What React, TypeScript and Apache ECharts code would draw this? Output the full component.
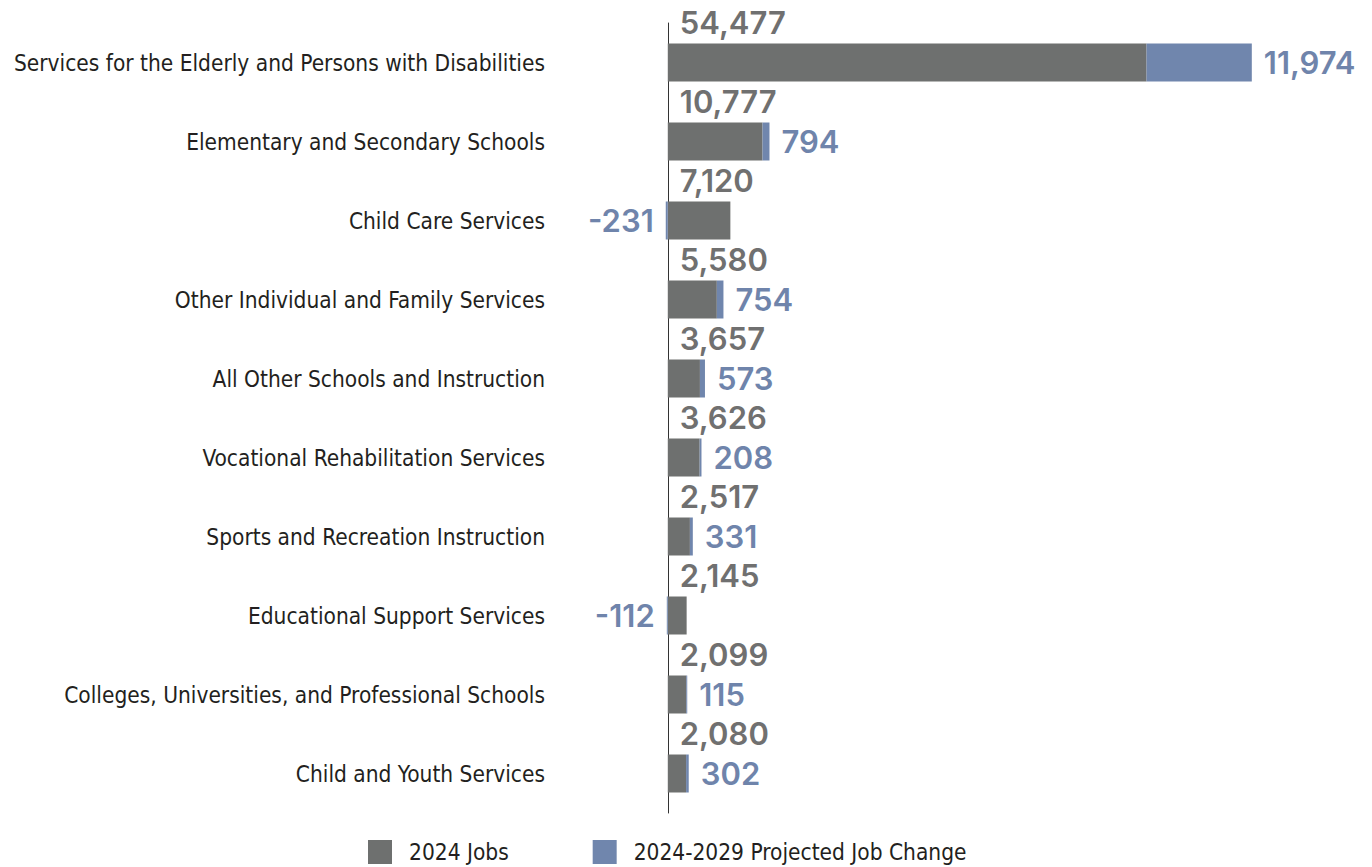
import React, { useEffect, useRef } from "react";
import * as echarts from "echarts";

const categories = [
  "Services for the Elderly and Persons with Disabilities",
  "Elementary and Secondary Schools",
  "Child Care Services",
  "Other Individual and Family Services",
  "All Other Schools and Instruction",
  "Vocational Rehabilitation Services",
  "Sports and Recreation Instruction",
  "Educational Support Services",
  "Colleges, Universities, and Professional Schools",
  "Child and Youth Services",
];
const jobs2024 = [54477, 10777, 7120, 5580, 3657, 3626, 2517, 2145, 2099, 2080];
const jobChange = [11974, 794, -231, 754, 573, 208, 331, -112, 115, 302];
const seriesNames = ["2024 Jobs", "2024-2029 Projected Job Change"];

const GRAY = "#6e706f";
const BLUE = "#7086ad";
const NUM_FONT = "Inter, 'DejaVu Sans', sans-serif";
const CAT_FONT = "'DejaVu Sans Condensed', 'Liberation Sans Narrow', sans-serif";

const fmt = (v: number) => v.toLocaleString("en-US");

export default function App() {
  const ref = useRef<HTMLDivElement>(null);
  useEffect(() => {
    if (!ref.current) return;
    const chart = echarts.init(ref.current, null, { renderer: "svg" });
    chart.setOption({
      animation: false,
      backgroundColor: "#ffffff",
      grid: { left: 659, right: 89, top: 23, bottom: 54, containLabel: false, outerBoundsMode: "none" },
      legend: {
        left: 368,
        top: 840,
        padding: 0,
        itemWidth: 24,
        itemHeight: 24,
        itemGap: 84,
        icon: "rect",
        textStyle: { fontFamily: CAT_FONT, fontSize: 22.5, color: "#231f20", padding: [0, 0, 0, 12] },
        data: seriesNames,
      },
      xAxis: {
        type: "value",
        min: -1000,
        max: 70000,
        axisLabel: { show: false },
        axisLine: { show: false },
        axisTick: { show: false },
        splitLine: { show: false },
      },
      yAxis: {
        type: "category",
        data: categories,
        inverse: true,
        axisTick: { show: false },
        axisLine: { show: true, onZero: true, lineStyle: { color: "#333333", width: 1 } },
        axisLabel: { margin: 114, fontFamily: CAT_FONT, fontSize: 22.5, color: "#231f20" },
      },
      series: [
        {
          name: seriesNames[0],
          type: "bar",
          stack: "total",
          barWidth: 38,
          data: jobs2024,
          itemStyle: { color: GRAY },
          label: {
            show: true,
            position: [12, -21],
            align: "left",
            verticalAlign: "middle",
            formatter: (p: any) => fmt(p.value),
            fontFamily: NUM_FONT,
            fontWeight: 600,
            fontSize: 31,
            color: "#707070",
          },
        },
        {
          name: seriesNames[1],
          type: "bar",
          stack: "total",
          barWidth: 38,
          data: jobChange.map((v) => ({ value: v, label: { position: v < 0 ? "left" : "right" } })),
          itemStyle: { color: BLUE },
          label: {
            show: true,
            distance: 12,
            formatter: (p: any) => fmt(p.value),
            fontFamily: NUM_FONT,
            fontWeight: 600,
            fontSize: 31,
            color: "#6f84ab",
          },
        },
      ],
    });
    return () => chart.dispose();
  }, []);
  return (
    <div
      ref={ref}
      style={{ position: "fixed", left: 0, top: 0, width: 1372, height: 867, background: "#fff" }}
    />
  );
}
